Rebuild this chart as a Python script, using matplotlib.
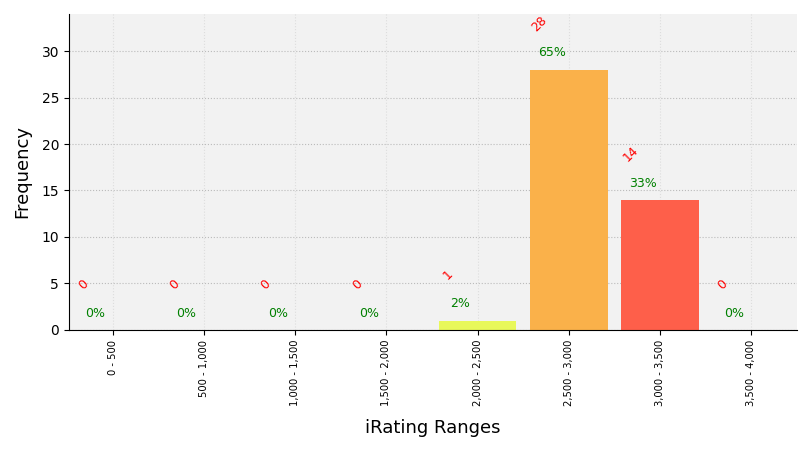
import numpy as np
import matplotlib.pyplot as plt

# iRating ranges and counts
ranges = ['0 - 500', '500 - 1,000', '1,000 - 1,500', '1,500 - 2,000',
          '2,000 - 2,500', '2,500 - 3,000', '3,000 - 3,500', '3,500 - 4,000']
counts = [0, 0, 0, 0, 1, 28, 14, 0]
percents = ['0%', '0%', '0%', '0%', '2%', '65%', '33%', '0%']
colors = ['#e8f85a', '#e8f85a', '#e8f85a', '#e8f85a',
          '#e8f85a', '#fab14a', '#fe5f4a', '#fe5f4a']

fig, ax = plt.subplots(figsize=(8.1, 4.5), dpi=100)
fig.subplots_adjust(left=0.085, right=0.984, top=0.969, bottom=0.267)

x = np.arange(len(ranges))
ax.bar(x, counts, width=0.85, color=colors, zorder=2)

for i, (c, p) in enumerate(zip(counts, percents)):
    ax.text(i - 0.32, c + 4.9, str(c), color='red', rotation=45,
            ha='center', va='center', fontsize=9)
    ax.text(i - 0.19, c + 1.8, p, color='green',
            ha='center', va='center', fontsize=9)

ax.set_facecolor('#f2f2f2')
ax.set_xlim(-0.48, 7.5)
ax.set_ylim(0, 34)
ax.set_xticks(x)
ax.set_xticklabels(ranges, rotation=90, fontsize=7.2)
ax.tick_params(axis='y', labelsize=10)
ax.set_xlabel('iRating Ranges', fontsize=13, labelpad=9.5)
ax.set_ylabel('Frequency', fontsize=13, labelpad=7.5)
ax.grid(axis='y', linestyle=':', color='#bbbbbb', linewidth=0.8, zorder=0)
ax.grid(axis='x', linestyle=':', color='#dddddd', linewidth=0.8, zorder=0)
ax.set_axisbelow(True)
ax.spines['top'].set_visible(False)
ax.spines['right'].set_visible(False)

plt.savefig('out.png')
